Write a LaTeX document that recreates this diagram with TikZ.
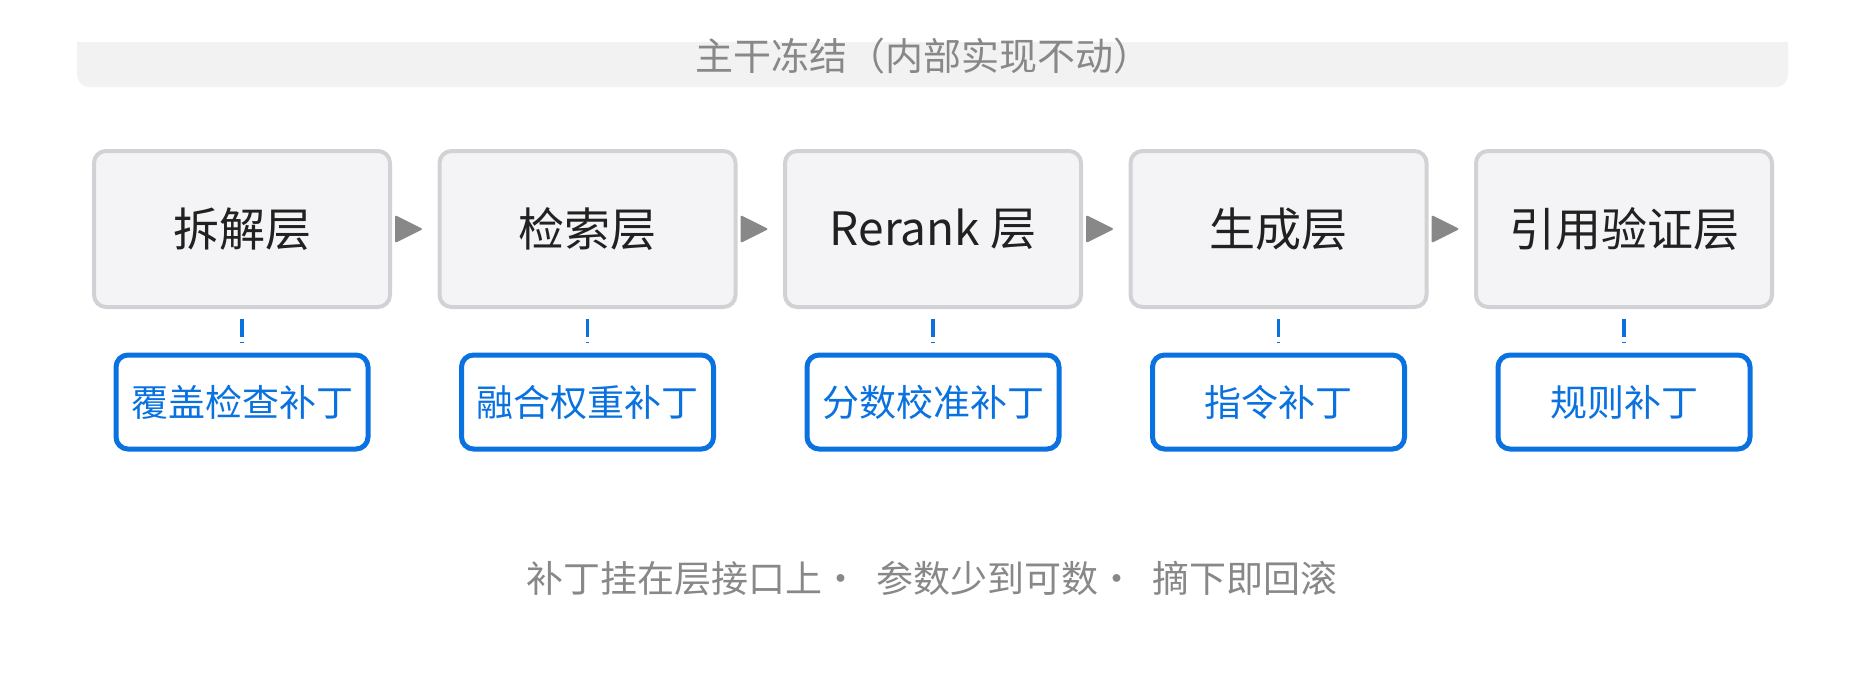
\documentclass[tikz,border=0pt]{standalone}
\usepackage{fontspec}
\setmainfont{Noto Sans CJK SC}
\definecolor{lay}{HTML}{F4F4F6}
\definecolor{layb}{HTML}{D2D2D6}
\definecolor{blu}{HTML}{0A72E0}
\definecolor{gr}{HTML}{888888}
\definecolor{ban}{HTML}{F2F2F2}
\begin{document}
\begin{tikzpicture}[x=1pt,y=-1pt,
 layer/.style={draw=layb,line width=4pt,fill=lay,rounded corners=12pt,minimum width=296pt,minimum height=156pt,font=\fontsize{46}{50}\selectfont,text=black!87},
 patch/.style={draw=blu,line width=5pt,fill=white,rounded corners=12pt,minimum width=252pt,minimum height=94pt,font=\fontsize{37}{40}\selectfont,text=blu},
 tri/.style={fill=gr},
 link/.style={blu,line width=3.5pt,dash pattern=on 18pt off 5pt on 3pt off 40pt}]
\useasboundingbox (0,0) rectangle (1862,678);
\fill[ban,rounded corners=12pt] (77,30) rectangle (1788,87);
\fill[white] (70,0) rectangle (1795,42);
\node[text=gr,font=\fontsize{38}{40}\selectfont] (banner) at (923,56) {主干冻结（内部实现不动）};
\foreach \i/\t/\p in {1/拆解层/覆盖检查补丁,2/检索层/融合权重补丁,3/Rerank 层/分数校准补丁,4/生成层/指令补丁,5/引用验证层/规则补丁}{
 \node[layer] (L\i) at ({242+345.5*(\i-1)},229) {\t};
 \node[patch] (P\i) at ({242+345.5*(\i-1)},402) {\p};
 \draw[link] ([yshift=-10pt]L\i.south) -- ([yshift=10pt]P\i.north);
}
\foreach \i in {1,...,4}{
 \fill[tri,rounded corners=2pt] ([xshift=3pt,yshift=-14pt]L\i.east) -- ([xshift=31pt]L\i.east) -- ([xshift=3pt,yshift=14pt]L\i.east) -- cycle;
}
\node[text=gr,font=\fontsize{37}{40}\selectfont] (foot) at (932,578) {补丁挂在层接口上·\ \ 参数少到可数·\ \ 摘下即回滚};
\end{tikzpicture}
\end{document}
